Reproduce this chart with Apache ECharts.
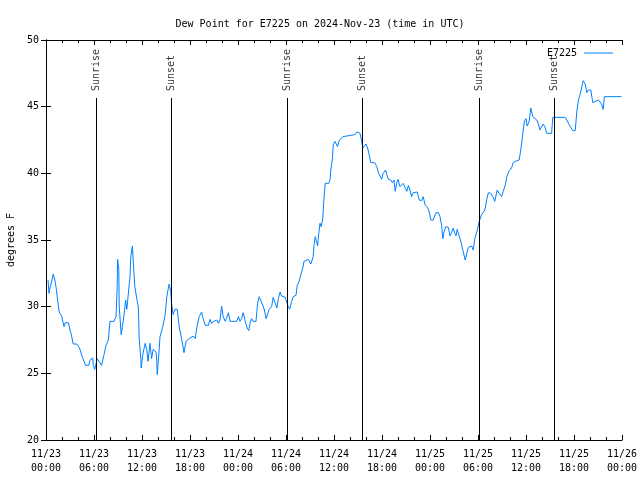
<!DOCTYPE html>
<html><head><meta charset="utf-8">
<script src="https://cdn.jsdelivr.net/npm/echarts@6/dist/echarts.min.js"></script>
<style>html,body{margin:0;padding:0;background:#fff}#c{width:640px;height:480px}</style>
</head><body><div id="c"></div>
<script>
// hours since 2024-11-23 00:00 UTC
const hours = [0.25,0.375,0.5,0.75,0.9,1.1,1.3,1.4,1.65,1.95,2.25,2.4,2.8,3.0,3.2,3.4,3.85,4.15,4.35,4.55,4.65,4.95,5.35,5.5,5.85,5.9,6.1,6.35,6.4,6.65,6.95,7.25,7.5,7.8,7.9,8.0,8.5,8.75,8.9,8.95,9.1,9.15,9.4,9.55,9.8,9.95,10.1,10.3,10.5,10.6,10.8,10.9,11.1,11.35,11.55,11.65,11.85,11.9,12.1,12.4,12.6,12.75,13.0,13.2,13.4,13.75,13.85,13.9,14.1,14.25,14.6,14.9,15.1,15.3,15.4,15.6,15.7,15.9,16.1,16.4,16.65,16.95,17.25,17.5,17.9,18.1,18.4,18.65,18.9,19.15,19.45,19.65,19.9,20.3,20.5,20.7,21.0,21.35,21.55,21.75,21.95,22.15,22.4,22.6,22.8,23.0,23.4,23.6,23.85,24.05,24.25,24.45,24.65,24.9,25.15,25.35,25.5,25.7,25.9,26.25,26.45,26.65,26.85,27.1,27.3,27.5,27.7,27.9,28.2,28.4,28.6,28.85,29.05,29.25,29.45,29.65,29.9,30.1,30.3,30.45,30.7,30.9,31.25,31.4,31.65,31.85,32.1,32.25,32.5,32.8,33.1,33.3,33.4,33.5,33.65,33.85,33.95,34.1,34.25,34.4,34.6,34.7,34.9,35.1,35.35,35.5,35.6,35.8,35.9,36.1,36.35,36.45,36.65,36.9,37.1,37.25,38.6,38.85,39.05,39.25,39.45,39.6,39.75,40.0,40.2,40.4,40.6,41.1,41.35,41.55,41.75,41.95,42.15,42.45,42.6,42.8,43.1,43.3,43.5,43.65,43.85,44.0,44.25,44.45,44.65,44.9,45.1,45.3,45.5,45.7,45.9,46.4,46.65,46.95,47.15,47.4,47.7,47.9,48.1,48.4,48.75,49.05,49.25,49.45,49.6,49.75,49.95,50.3,50.5,50.7,50.9,51.1,51.25,51.4,51.6,51.85,52.0,52.25,52.4,52.6,52.8,53.2,53.4,53.6,53.9,54.15,54.45,54.85,55.1,55.3,55.6,55.85,56.1,56.4,56.65,56.95,57.15,57.4,57.6,57.9,58.2,58.4,58.6,58.85,59.15,59.35,59.55,59.65,59.8,60.0,60.15,60.4,60.6,60.7,60.85,61.1,61.35,61.55,61.75,61.95,62.15,62.35,62.6,63.2,63.35,64.9,65.1,65.35,65.6,65.85,66.15,66.35,66.55,66.75,66.95,67.15,67.4,67.6,67.8,68.1,68.35,68.5,69.05,69.25,69.45,69.65,69.8,71.95];
const dewPoint = [32.0,31.0,31.4,32.0,32.45,32.0,31.3,30.75,29.6,29.3,28.5,28.8,28.8,28.25,27.8,27.2,27.2,26.95,26.6,26.2,26.3,25.6,25.6,26.0,26.15,25.6,25.3,25.2,26.1,26.2,25.6,26.4,27.1,27.5,28.25,28.9,28.9,29.25,31.45,33.55,32.8,30.05,27.9,28.5,29.6,30.5,29.8,29.8,32.25,33.75,34.55,33.5,31.5,30.6,29.9,27.6,26.1,25.4,26.4,27.25,26.75,25.9,27.25,26.1,26.8,26.6,25.9,24.9,26.4,27.75,28.5,29.4,30.75,31.4,31.7,31.1,30.2,29.4,29.8,29.8,28.5,27.6,26.55,27.4,27.6,27.5,27.8,27.6,28.6,29.25,29.6,29.1,28.6,28.6,29.05,28.75,28.9,29.0,28.75,29.0,30.05,29.25,28.9,29.2,29.55,28.9,28.9,29.05,28.9,29.25,28.9,29.1,29.55,28.9,28.4,28.2,28.75,29.1,28.9,28.9,30.25,30.75,30.75,30.1,29.75,29.1,29.45,29.8,30.0,30.7,30.6,29.9,30.6,31.1,30.8,30.8,30.7,30.3,30.0,29.8,30.4,30.75,30.85,31.6,31.9,32.4,32.9,33.4,33.55,33.55,33.2,33.1,33.75,34.6,35.25,35.3,34.55,35.5,36.25,36.0,36.6,37.75,39.25,39.2,39.25,39.5,40.25,41.1,42.1,42.4,42.3,42.0,42.45,42.4,42.75,42.9,42.9,43.1,43.2,43.0,42.45,41.9,42.0,42.2,41.9,41.4,40.8,40.8,40.5,40.05,40.0,39.55,40.0,40.25,39.9,39.55,39.5,39.3,39.5,38.65,39.3,39.55,39.0,38.9,39.25,38.9,38.65,39.1,38.75,38.25,38.55,38.6,38.0,37.95,38.25,37.6,37.45,37.1,36.5,36.5,37.05,37.05,36.75,36.1,35.1,35.6,36.0,35.95,35.3,35.55,35.9,35.5,35.3,35.8,35.85,34.9,34.5,34.5,33.5,34.0,34.45,34.55,34.25,35.1,35.7,36.4,36.9,37.25,38.05,38.55,38.5,38.25,37.9,38.75,38.5,38.25,38.65,39.1,39.75,40.2,40.4,40.8,40.75,40.95,41.0,41.8,42.7,43.25,43.9,44.1,43.55,43.9,44.9,44.95,44.25,44.2,44.0,43.7,43.25,43.5,43.7,43.5,43.0,43.0,44.2,44.2,44.0,43.7,43.6,43.2,43.2,44.6,45.5,45.9,46.4,46.95,46.7,46.05,46.25,46.25,45.3,45.45,45.5,45.45,45.2,44.8,45.75,45.75];
const sunNames = ['Sunrise','Sunset','Sunrise','Sunset','Sunrise','Sunset'];
const sunHours = [6.25,15.625,30.125,39.5,54.125,63.5];
const xTickDates = ['11/23','11/23','11/23','11/23','11/24','11/24','11/24','11/24','11/25','11/25','11/25','11/25','11/26'];
const xTickTimes = ['00:00','06:00','12:00','18:00','00:00','06:00','12:00','18:00','00:00','06:00','12:00','18:00','00:00'];
const seriesName = 'E7225';
const sunLineTop = 45.65;

const FONT = 'DejaVu Sans Mono';
const chart = echarts.init(document.getElementById('c'), null, {renderer:'canvas'});
const axisCommon = {
  axisLine:{show:true,lineStyle:{color:'#000',width:1}},
  splitLine:{show:false},
};
const option = {
  animation:false,
  backgroundColor:'#fff',
  textStyle:{fontFamily:FONT},
  title:{text:'Dew Point for E7225 on 2024-Nov-23 (time in UTC)',left:'center',top:14,
    textStyle:{fontFamily:FONT,fontSize:10,fontWeight:'normal',color:'#000'}},
  legend:{data:[seriesName],right:22,top:43,icon:'rect',itemWidth:29,itemHeight:1,itemGap:0,align:'right',
    textStyle:{fontFamily:FONT,fontSize:10,color:'#000',padding:[0,2,0,0]}},
  grid:{left:46,right:18,top:40,bottom:40,containLabel:false,outerBoundsMode:'none'},
  xAxis:[
    Object.assign({type:'value',min:0,max:72,interval:6,position:'bottom',
      axisTick:{show:true,inside:true,length:5,lineStyle:{color:'#000'}},
      minorTick:{show:true,splitNumber:3,length:3,lineStyle:{color:'#000'}},
      axisLabel:{fontFamily:FONT,fontSize:10,color:'#000',margin:7,lineHeight:14,
        formatter:(v)=>{const i=Math.round(v/6);return xTickDates[i]+'\n'+xTickTimes[i];}}},axisCommon),
    Object.assign({type:'value',min:0,max:72,interval:6,position:'top',
      axisTick:{show:true,inside:true,length:5,lineStyle:{color:'#000'}},
      minorTick:{show:true,splitNumber:3,length:3,lineStyle:{color:'#000'}},
      axisLabel:{show:false}},axisCommon)
  ],
  yAxis:[
    Object.assign({type:'value',min:20,max:50,interval:5,position:'left',
      name:'degrees F',nameLocation:'middle',nameRotate:90,nameGap:30,
      nameTextStyle:{fontFamily:FONT,fontSize:10,color:'#000'},
      axisTick:{show:true,inside:true,length:5,lineStyle:{color:'#000'}},
      axisLabel:{fontFamily:FONT,fontSize:10,color:'#000',margin:7}},axisCommon),
    Object.assign({type:'value',min:20,max:50,interval:5,position:'right',
      axisTick:{show:true,inside:true,length:5,lineStyle:{color:'#000'}},
      axisLabel:{show:false}},axisCommon)
  ],
  series:[
    {name:seriesName,type:'line',xAxisIndex:0,yAxisIndex:0,showSymbol:false,symbol:'none',
     lineStyle:{color:'#0080ff',width:1},itemStyle:{color:'#0080ff'},
     data:hours.map((h,i)=>[h,dewPoint[i]]),
     markLine:{silent:true,symbol:['none','none'],label:{show:false},
       lineStyle:{color:'#000',width:1,type:'solid'},
       data:sunHours.map(h=>[{coord:[h,20]},{coord:[h,sunLineTop]}])}
    },
    {name:'sunLabels',type:'scatter',xAxisIndex:0,yAxisIndex:0,symbolSize:0,silent:true,
     data:sunHours.map((h,i)=>({value:[h,sunLineTop],name:sunNames[i]})),
     label:{show:true,position:'top',distance:6,rotate:90,align:'left',verticalAlign:'middle',
       offset:[1,0],formatter:(p)=>p.name,fontFamily:FONT,fontSize:10,color:'#000'}}
  ]
};
chart.setOption(option);
</script></body></html>
